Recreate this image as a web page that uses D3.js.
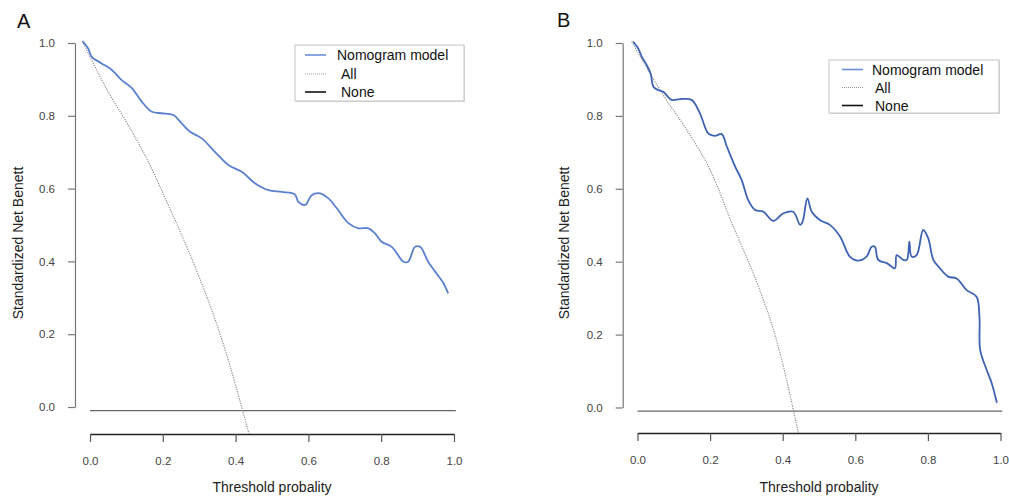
<!DOCTYPE html>
<html>
<head>
<meta charset="utf-8">
<script src="https://cdn.jsdelivr.net/npm/d3@7"></script>
<style>
  body { margin: 0; background: #fff; }
  svg { display: block; font-family: Arial, "Liberation Sans", sans-serif; }
</style>
</head>
<body>
<div id="chart"></div>
<script>
// values
var xTicks = [0, 0.2, 0.4, 0.6, 0.8, 1.0];
var yTicks = [0, 0.2, 0.4, 0.6, 0.8, 1.0];
var legendLabels = ['Nomogram model', 'All', 'None'];
var panelLabels = ['A', 'B'];
var xTitle = 'Threshold probality';
var yTitle = 'Standardized Net Benett';
var noneValue = -0.01;

var thresholdA = [-0.021, -0.005, 0.005, 0.032, 0.060, 0.087, 0.115, 0.142, 0.170, 0.197,
  0.229, 0.252, 0.275, 0.307, 0.343, 0.380, 0.417, 0.453, 0.490, 0.527,
  0.563, 0.572, 0.591, 0.609, 0.632, 0.655, 0.678, 0.710, 0.737, 0.765,
  0.783, 0.801, 0.829, 0.861, 0.874, 0.893, 0.907, 0.929, 0.948, 0.971, 0.984];
var modelA = [1.005, 0.985, 0.962, 0.944, 0.926, 0.898, 0.876, 0.839, 0.811, 0.807,
  0.802, 0.779, 0.756, 0.738, 0.701, 0.665, 0.646, 0.615, 0.596, 0.591,
  0.584, 0.564, 0.555, 0.582, 0.587, 0.573, 0.546, 0.505, 0.491, 0.491,
  0.477, 0.454, 0.440, 0.399, 0.399, 0.440, 0.440, 0.399, 0.372, 0.340, 0.312];
var allThrA = [-0.018, 0.050, 0.105, 0.160, 0.215, 0.270, 0.325, 0.350, 0.375, 0.400, 0.420, 0.437];
var allA = [0.999, 0.866, 0.775, 0.674, 0.555, 0.430, 0.292, 0.222, 0.145, 0.060, -0.012, -0.074];

var thresholdB = [-0.012, 0.002, 0.012, 0.025, 0.036, 0.044, 0.057, 0.071, 0.094, 0.117,
  0.149, 0.172, 0.195, 0.213, 0.232, 0.246, 0.269, 0.287, 0.305, 0.324,
  0.347, 0.374, 0.402, 0.429, 0.448, 0.455, 0.468, 0.480, 0.503, 0.530,
  0.558, 0.585, 0.608, 0.631, 0.645, 0.654, 0.663, 0.687, 0.709, 0.714,
  0.732, 0.742, 0.749, 0.755, 0.769, 0.787, 0.801, 0.815, 0.833, 0.856,
  0.879, 0.907, 0.934, 0.942, 0.944, 0.962, 0.976, 0.990];
var modelB = [1.004, 0.985, 0.962, 0.940, 0.917, 0.880, 0.871, 0.866, 0.844, 0.846,
  0.844, 0.807, 0.752, 0.745, 0.750, 0.716, 0.661, 0.624, 0.569, 0.542,
  0.537, 0.512, 0.533, 0.537, 0.501, 0.510, 0.574, 0.537, 0.514, 0.501,
  0.469, 0.414, 0.403, 0.414, 0.441, 0.441, 0.405, 0.396, 0.382, 0.418,
  0.405, 0.405, 0.455, 0.414, 0.418, 0.487, 0.464, 0.405, 0.382, 0.359,
  0.354, 0.322, 0.304, 0.249, 0.158, 0.103, 0.066, 0.013];
var allThrB = [-0.016, 0.071, 0.136, 0.200, 0.264, 0.319, 0.345, 0.370, 0.395, 0.420, 0.430, 0.443];
var allB = [1.004, 0.857, 0.761, 0.652, 0.496, 0.368, 0.300, 0.228, 0.140, 0.035, -0.010, -0.070];

var W = 1009, H = 496;
var svg = d3.select('#chart').append('svg')
  .attr('width', W)
  .attr('height', H);

var panels = [
  {
    label: panelLabels[0], labelX: 17, labelY: 28,
    x0: 90, x1: 454, y0: 407, y1: 43, axisY: 434, axisX: 75,
    yTitleX: 22.5, titleX: 272,
    thr: thresholdA, model: modelA, allThr: allThrA, all: allA,
    color: '#5a80d0',
    legend: { x: 295, y: 45, w: 169, h: 56, rowY: [55, 74, 92], lineX: 305, textX: [337, 341, 341] }
  },
  {
    label: panelLabels[1], labelX: 557, labelY: 27,
    x0: 637.5, x1: 1000.5, y0: 407.5, y1: 43, axisY: 433, axisX: 622.7,
    yTitleX: 569, titleX: 819,
    thr: thresholdB, model: modelB, allThr: allThrB, all: allB,
    color: '#3f63b3',
    legend: { x: 829, y: 60, w: 170, h: 53, rowY: [69.5, 87.5, 105.5], lineX: 842, textX: [872, 875, 875] }
  }
];

panels.forEach(function (p) {
  var x = d3.scaleLinear().domain([0, 1]).range([p.x0, p.x1]);
  var y = d3.scaleLinear().domain([0, 1]).range([p.y0, p.y1]);
  var g = svg.append('g');

  // panel letter
  g.append('text')
    .attr('x', p.labelX)
    .attr('y', p.labelY)
    .attr('font-size', 20)
    .attr('fill', '#111')
    .text(p.label);

  // y axis
  var ya = g.append('g')
    .attr('transform', 'translate(' + p.axisX + ',0)')
    .call(d3.axisLeft(y).tickValues(yTicks).tickSize(7).tickSizeOuter(0).tickPadding(13)
      .tickFormat(d3.format('.1f')));
  ya.select('.domain').attr('stroke', '#777').attr('stroke-width', 1.2);
  ya.selectAll('.tick line').attr('stroke', '#777').attr('stroke-width', 1.2);
  ya.selectAll('.tick text').attr('font-size', 11.5).attr('fill', '#444')
    .attr('font-family', 'Arial, "Liberation Sans", sans-serif');

  // x axis, drawn a little below the plot as in the original
  var xa = g.append('g')
    .attr('transform', 'translate(0,' + p.axisY + ')')
    .call(d3.axisBottom(x).tickValues(xTicks).tickSize(8).tickSizeOuter(0).tickPadding(15)
      .tickFormat(d3.format('.1f')));
  xa.select('.domain').attr('stroke', '#222').attr('stroke-width', 1.6);
  xa.selectAll('.tick line').attr('stroke', '#555').attr('stroke-width', 1.2);
  xa.selectAll('.tick text').attr('font-size', 11.5).attr('fill', '#444')
    .attr('font-family', 'Arial, "Liberation Sans", sans-serif');

  // axis titles
  g.append('text')
    .attr('x', p.titleX)
    .attr('y', 492)
    .attr('text-anchor', 'middle')
    .attr('font-size', 14)
    .attr('fill', '#222')
    .text(xTitle);
  g.append('text')
    .attr('transform', 'translate(' + p.yTitleX + ',243) rotate(-90)')
    .attr('text-anchor', 'middle')
    .attr('font-size', 14)
    .attr('fill', '#222')
    .text(yTitle);

  // None line
  g.append('line')
    .attr('x1', x(0)).attr('x2', x(1.005))
    .attr('y1', y(noneValue)).attr('y2', y(noneValue))
    .attr('stroke', '#666')
    .attr('stroke-width', 1.3);

  // All (treat everyone)
  var allPts = p.allThr.map(function (t, i) { return [t, p.all[i]]; });
  g.append('path')
    .datum(allPts)
    .attr('fill', 'none')
    .attr('stroke', '#888')
    .attr('stroke-width', 1.1)
    .attr('stroke-dasharray', '1.2,1.2')
    .attr('d', d3.line()
      .x(function (d) { return x(d[0]); })
      .y(function (d) { return y(d[1]); })
      .curve(d3.curveMonotoneX));

  // nomogram model
  var modelPts = p.thr.map(function (t, i) { return [t, p.model[i]]; });
  g.append('path')
    .datum(modelPts)
    .attr('fill', 'none')
    .attr('stroke', p.color)
    .attr('stroke-width', 1.8)
    .attr('stroke-linejoin', 'round')
    .attr('d', d3.line()
      .x(function (d) { return x(d[0]); })
      .y(function (d) { return y(d[1]); })
      .curve(d3.curveCatmullRom.alpha(0.5)));

  // legend
  var L = p.legend;
  var lg = g.append('g');
  lg.append('rect')
    .attr('x', L.x + 1).attr('y', L.y + 1)
    .attr('width', L.w).attr('height', L.h)
    .attr('fill', '#d8d8d8');
  lg.append('rect')
    .attr('x', L.x).attr('y', L.y)
    .attr('width', L.w).attr('height', L.h)
    .attr('fill', '#fff')
    .attr('stroke', '#c4c4c4')
    .attr('stroke-width', 1);
  var styles = [
    { stroke: '#6a8fd8', width: 1.6, dash: null },
    { stroke: '#999', width: 1, dash: '1,1' },
    { stroke: '#111', width: 1.6, dash: null }
  ];
  legendLabels.forEach(function (name, i) {
    lg.append('line')
      .attr('x1', L.lineX).attr('x2', L.lineX + 21)
      .attr('y1', L.rowY[i]).attr('y2', L.rowY[i])
      .attr('stroke', styles[i].stroke)
      .attr('stroke-width', styles[i].width)
      .attr('stroke-dasharray', styles[i].dash);
    lg.append('text')
      .attr('x', L.textX[i])
      .attr('y', L.rowY[i])
      .attr('dy', '0.36em')
      .attr('font-size', 14)
      .attr('fill', '#111')
      .text(name);
  });
});
</script>
</body>
</html>
